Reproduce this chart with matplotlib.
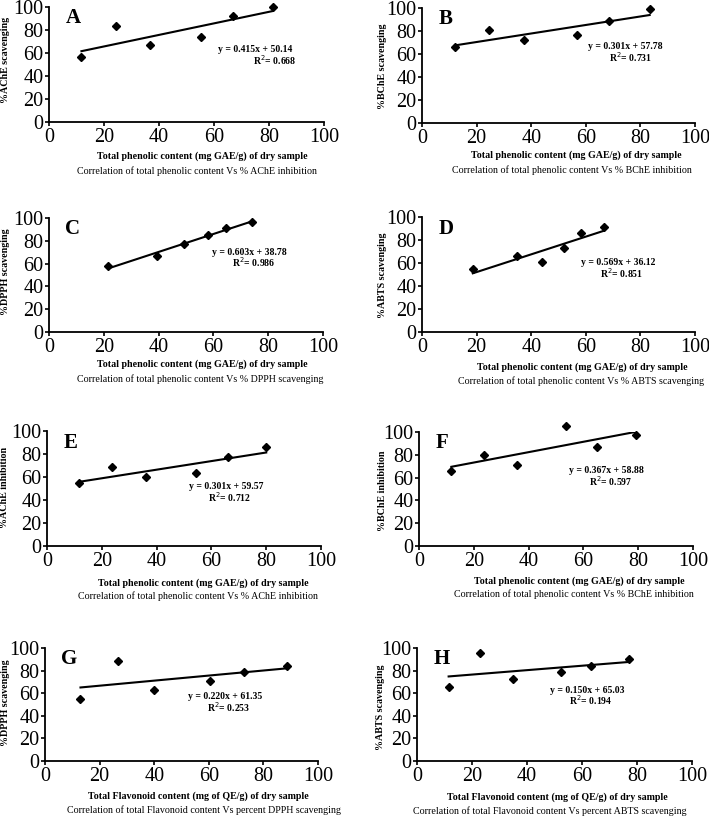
import numpy as np
import matplotlib
matplotlib.use("Agg")
import matplotlib.pyplot as plt

plt.rcParams['font.family'] = ['Liberation Serif', 'DejaVu Serif']

# data
panel_letters = ['A', 'B', 'C', 'D', 'E', 'F', 'G', 'H']

x_A = [11.8, 24.3, 36.8, 55.3, 67.0, 81.3]
y_A = [56.2, 83.5, 67.2, 73.9, 91.9, 100.0]
x_B = [12.1, 24.7, 37.5, 56.7, 68.6, 83.4]
y_B = [66.4, 80.9, 71.9, 76.2, 88.7, 98.8]
x_C = [21.6, 39.5, 49.1, 58.2, 64.5, 74.1]
y_C = [57.6, 66.7, 76.9, 85.1, 91.0, 96.8]
x_D = [18.6, 34.9, 43.8, 52.1, 58.1, 66.5]
y_D = [54.7, 65.7, 60.8, 72.7, 85.8, 91.6]
x_E = [11.7, 23.8, 36.1, 54.4, 65.9, 80.0]
y_E = [54.9, 68.8, 59.8, 63.6, 77.2, 85.8]
x_F = [11.8, 23.8, 35.8, 53.8, 65.1, 79.1]
y_F = [66.1, 80.1, 71.3, 105.6, 87.1, 97.1]
x_G = [13.0, 26.6, 40.0, 60.3, 73.0, 88.7]
y_G = [55.0, 88.8, 62.9, 71.2, 78.8, 83.8]
x_H = [11.5, 23.0, 34.8, 52.4, 63.4, 77.0]
y_H = [65.6, 95.6, 72.6, 78.8, 84.1, 90.0]

xs = [x_A, x_B, x_C, x_D, x_E, x_F, x_G, x_H]
ys = [y_A, y_B, y_C, y_D, y_E, y_F, y_G, y_H]

equations = ['y = 0.415x + 50.14', 'y = 0.301x + 57.78', 'y = 0.603x + 38.78',
             'y = 0.569x + 36.12', 'y = 0.301x + 59.57', 'y = 0.367x + 58.88',
             'y = 0.220x + 61.35', 'y = 0.150x + 65.03']
r2_values = ['0.668', '0.731', '0.986', '0.851', '0.712', '0.597', '0.253', '0.194']

y_labels = ['%AChE scavenging', '%BChE scavenging', '%DPPH scavenging',
            '%ABTS scavenging', '%AChE inhibition', '%BChE inhibition',
            '%DPPH scavenging', '%ABTS scavenging']
x_label_phenolic = 'Total phenolic content (mg GAE/g) of dry sample'
x_label_flavonoid = 'Total Flavonoid content (mg of QE/g) of dry sample'
x_labels = [x_label_phenolic] * 6 + [x_label_flavonoid] * 2
captions = ['Correlation of total phenolic content Vs % AChE inhibition',
            'Correlation of total phenolic content Vs % BChE inhibition',
            'Correlation of total phenolic content Vs % DPPH scavenging',
            'Correlation of total phenolic content Vs % ABTS scavenging',
            'Correlation of total phenolic content Vs % AChE inhibition',
            'Correlation of total phenolic content Vs % BChE inhibition',
            'Correlation of total Flavonoid content Vs percent DPPH scavenging',
            'Correlation of total Flavonoid content Vs percent ABTS scavenging']

# layout (pixels): axes left, right, top, bottom
W, H = 709, 818
boxes = [(49, 324, 7, 122), (422, 695, 8, 123),
         (49, 323, 218, 332), (422, 695, 217, 332),
         (47, 321, 431, 546), (419, 693, 432, 546),
         (45, 318, 648, 761), (417, 692, 648, 761)]
eq_pos = [(75.1, 63.2, 82.0, 54.2), (74.6, 66.1, 76.3, 57.1),
          (73.2, 69.9, 74.8, 61.1), (72.0, 60.5, 73.1, 51.5),
          (65.4, 51.4, 66.8, 42.2), (68.3, 66.1, 70.0, 57.0),
          (65.8, 56.8, 67.2, 47.6), (61.8, 62.6, 63.3, 53.5)]
ylabel_pos = [(6, 60), (382, 66), (6, 272), (382, 275),
              (5, 487), (382, 491), (6, 703), (380, 707)]
xlabel_pos = [(202, 156), (576, 155), (202, 364), (582, 367),
              (203, 583), (579, 581), (198, 796), (557, 797)]
caption_pos = [(197, 171), (572, 170), (200, 379), (581, 381),
               (198, 596), (574, 594), (204, 810), (550, 811)]

fig = plt.figure(figsize=(W / 100, H / 100), dpi=100)

for i in range(8):
    l, r, t, b = boxes[i]
    ax = fig.add_axes([l / W, 1 - b / H, (r - l) / W, (b - t) / H])
    x = np.array(xs[i])
    y = np.array(ys[i])
    ax.plot(x, y, 'D', color='black', markersize=4.5, clip_on=False, zorder=3)
    slope, inter = np.polyfit(x, y, 1)
    xx = np.array([x.min(), x.max()])
    ax.plot(xx, slope * xx + inter, color='black', linewidth=1.5)

    ax.set_xlim(0, 100)
    ax.set_ylim(0, 100)
    ax.set_xticks(np.arange(0, 101, 20))
    ax.set_yticks(np.arange(0, 101, 20))
    ax.spines['top'].set_visible(False)
    ax.spines['right'].set_visible(False)
    ax.spines['left'].set_linewidth(1.3)
    ax.spines['bottom'].set_linewidth(1.3)
    ax.tick_params(labelsize=14.5, length=3, width=1.2, pad=1)

    ax.text(0.06, 0.9, panel_letters[i], transform=ax.transAxes,
            fontsize=15, fontweight='bold', va='center')
    ex, ey, rx, ry = eq_pos[i]
    ax.text(ex, ey, equations[i], fontsize=7, fontweight='bold',
            ha='center', va='center')
    ax.text(rx, ry, 'R$^2$= ' + r2_values[i], fontsize=7, fontweight='bold',
            ha='center', va='center')

    yx, yy = ylabel_pos[i]
    fig.text(yx / W, 1 - yy / H, y_labels[i], fontsize=7.2, fontweight='bold',
             rotation=90, ha='center', va='center')
    lx, ly = xlabel_pos[i]
    fig.text(lx / W, 1 - ly / H, x_labels[i], fontsize=7.2, fontweight='bold',
             ha='center', va='center')
    cx, cy = caption_pos[i]
    fig.text(cx / W, 1 - cy / H, captions[i], fontsize=7.2,
             ha='center', va='center')

fig.savefig('out.png', dpi=100)
